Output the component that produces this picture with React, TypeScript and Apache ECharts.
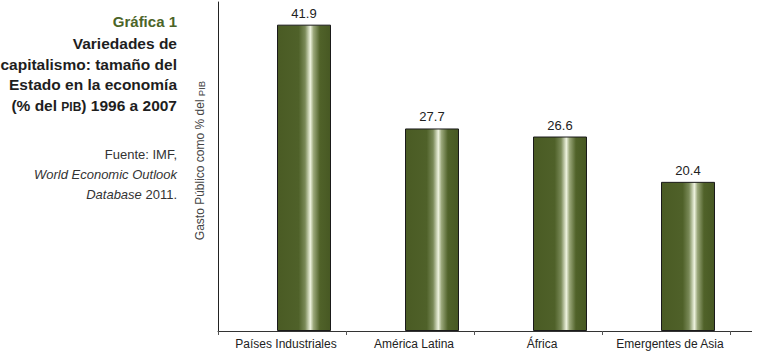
import React, { useEffect, useRef } from "react";
import * as echarts from "echarts";

const categories = ["Países Industriales", "América Latina", "África", "Emergentes de Asia"];
const gastoPublico = [41.9, 27.7, 26.6, 20.4];
const emptySeries = [null, null, null, null];

const titleLines = [
  "{g|Gráfica 1}",
  "{b|Variedades de}",
  "{b|capitalismo: tamaño del}",
  "{b|Estado en la economía}",
  "{b|(% del }{bs|PIB}{b|) 1996 a 2007}",
];
const sourceLines = [
  "{r|Fuente: IMF,}",
  "{i|World Economic Outlook}",
  "{i|Database}{r| 2011.}",
];

const FONT = "'Liberation Sans', Arial, Helvetica, sans-serif";

export default function App() {
  const ref = useRef<HTMLDivElement>(null);
  useEffect(() => {
    if (!ref.current) return;
    const chart = echarts.init(ref.current, null, { renderer: "svg" });
    const rich = {
      g: { fontFamily: FONT, fontSize: 15, fontWeight: "bold", fill: "#4b6428", color: "#4b6428", lineHeight: 18 },
      b: { fontFamily: FONT, fontSize: 15.5, fontWeight: "bold", fill: "#1e1e1e", color: "#1e1e1e", lineHeight: 18, verticalAlign: "bottom" },
      bs: { fontFamily: FONT, fontSize: 12, fontWeight: "bold", fill: "#1e1e1e", color: "#1e1e1e", lineHeight: 18, verticalAlign: "bottom", padding: [0, 0, 0, 0] },
      r: { fontFamily: FONT, fontSize: 13, fill: "#333", color: "#333", lineHeight: 16 },
      i: { fontFamily: FONT, fontSize: 13, fontStyle: "italic", fill: "#333", color: "#333", lineHeight: 16 },
    };
    const titleY = [21, 42, 63, 83.5, 104];
    const srcY = [154, 174, 194];
    const graphics: any[] = [];
    titleLines.forEach((t, i) => {
      graphics.push({
        type: "text",
        x: 177,
        y: titleY[i],
        style: { text: t, rich, align: "right", verticalAlign: "middle", font: `bold 15px ${FONT}` },
      });
    });
    sourceLines.forEach((t, i) => {
      graphics.push({
        type: "text",
        x: 177,
        y: srcY[i],
        style: { text: t, rich, align: "right", verticalAlign: "middle", font: `13px ${FONT}` },
      });
    });
    graphics.push({
      type: "line",
      shape: { x1: 730, y1: 331.5, x2: 752, y2: 331.5 },
      style: { stroke: "#333", lineWidth: 1 },
    });

    const barGradient = new echarts.graphic.LinearGradient(0, 0, 1, 0, [
      { offset: 0, color: "#4a5b24" },
      { offset: 0.4, color: "#4f6129" },
      { offset: 0.52, color: "#7a8a58" },
      { offset: 0.62, color: "#eef3df" },
      { offset: 0.68, color: "#9aa77a" },
      { offset: 0.8, color: "#506229" },
      { offset: 1, color: "#475823" },
    ]);

    chart.setOption({
      animation: false,
      backgroundColor: "#ffffff",
      grid: { left: 218, top: 2, right: 29, bottom: 26 },
      graphic: graphics,
      xAxis: {
        type: "category",
        data: categories,
        axisLine: { show: true, lineStyle: { color: "#333", width: 1 } },
        axisTick: { show: true, length: 4, lineStyle: { color: "#555" } },
        axisLabel: {
          interval: 0,
          fontFamily: FONT,
          fontSize: 12,
          color: "#222",
          margin: 7,
          padding: [0, 0, 0, 8],
        },
      },
      yAxis: {
        type: "value",
        min: 0,
        max: 45,
        axisLine: { show: true, lineStyle: { color: "#222", width: 1 } },
        axisTick: { show: false },
        axisLabel: { show: false },
        splitLine: { show: false },
        name: "{a|Gasto Público como % del }{s|PIB}",
        nameLocation: "middle",
        nameGap: 12,
        nameRotate: 90,
        nameTextStyle: {
          padding: [0, 0, 0, 12],
          rich: {
            a: { fontFamily: FONT, fontSize: 12, color: "#444", lineHeight: 14, verticalAlign: "bottom" },
            s: { fontFamily: FONT, fontSize: 9.5, color: "#444", lineHeight: 14, verticalAlign: "bottom" },
          },
        },
      },
      series: [
        {
          type: "bar",
          data: emptySeries,
          barWidth: 54,
          barGap: "-18.5%",
          silent: true,
        },
        {
          type: "bar",
          data: gastoPublico,
          barWidth: 54,
          barGap: "-18.5%",
          itemStyle: { color: barGradient, borderColor: "#1a1a1a", borderWidth: 1 },
          label: {
            show: true,
            position: "top",
            distance: 5,
            fontFamily: FONT,
            fontSize: 13,
            color: "#222",
            formatter: (p: any) => p.value.toFixed(1),
          },
        },
      ],
    });
    return () => chart.dispose();
  }, []);
  return (
    <div
      ref={ref}
      style={{ position: "fixed", left: 0, top: 0, width: 759, height: 357, background: "#fff" }}
    />
  );
}
